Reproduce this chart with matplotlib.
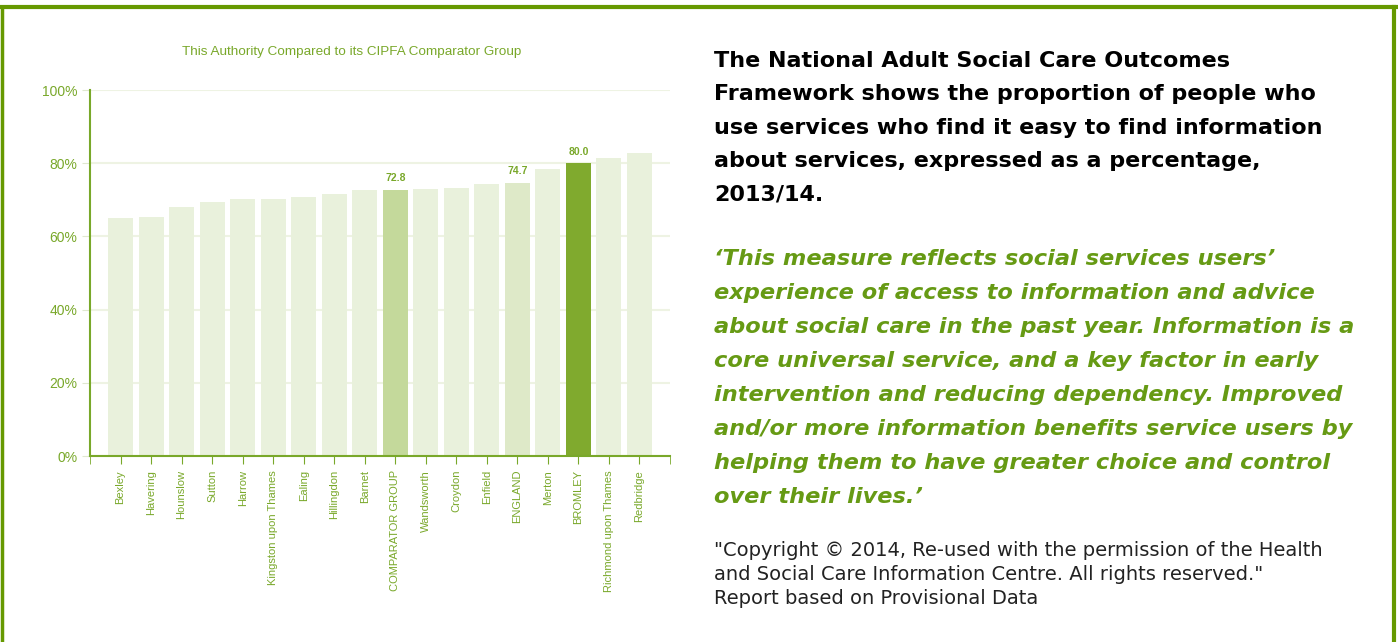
import numpy as np
import matplotlib
matplotlib.use("Agg")
import matplotlib.pyplot as plt
from matplotlib.lines import Line2D

#*************** DATA ******************#
areas = ["Bexley", "Havering", "Hounslow", "Sutton", "Harrow",
         "Kingston upon Thames", "Ealing", "Hillingdon", "Barnet",
         "COMPARATOR GROUP", "Wandsworth", "Croydon", "Enfield", "ENGLAND",
         "Merton", "BROMLEY", "Richmond upon Thames", "Redbridge"]
values = [65.0, 65.4, 67.9, 69.3, 70.1, 70.3, 70.9, 71.7, 72.7,
          72.8, 73.0, 73.1, 74.4, 74.7, 78.3, 80.0, 81.3, 82.7]
labelled = ["COMPARATOR GROUP", "ENGLAND", "BROMLEY"]
yticks = [0, 20, 40, 60, 80, 100]

title = "This Authority Compared to its CIPFA Comparator Group"
heading = ["The National Adult Social Care Outcomes",
           "Framework shows the proportion of people who",
           "use services who find it easy to find information",
           "about services, expressed as a percentage,",
           "2013/14."]
quote = ["\u2018This measure reflects social services users\u2019",
         "experience of access to information and advice",
         "about social care in the past year. Information is a",
         "core universal service, and a key factor in early",
         "intervention and reducing dependency. Improved",
         "and/or more information benefits service users by",
         "helping them to have greater choice and control",
         "over their lives.\u2019"]
copyright_lines = ["\"Copyright \u00a9 2014, Re-used with the permission of the Health",
                   "and Social Care Information Centre. All rights reserved.\"",
                   "Report based on Provisional Data"]

#*************** COLOURS ******************#
GREEN = "#79a82a"
DARK = "#669900"
bar_colors = {"COMPARATOR GROUP": "#c4d99b", "ENGLAND": "#dee9c8", "BROMLEY": "#80aa2e"}
default_bar = "#e9f1dc"

W, H = 1398, 642
fig = plt.figure(figsize=(W / 100, H / 100), dpi=100)

ax = fig.add_axes([90 / W, 1 - 456 / H, 580 / W, 366 / H])
x = np.arange(len(areas))
colors = [bar_colors.get(a, default_bar) for a in areas]
ax.bar(x, values, width=0.82, color=colors, zorder=2)

for i, (a, v) in enumerate(zip(areas, values)):
    if a in labelled:
        ax.text(i, v + 1.8, "%.1f" % v, ha="center", va="bottom",
                fontsize=7.5, fontweight="bold", color=GREEN,
                family="Liberation Sans")

ax.set_xlim(-1, 18)
ax.set_ylim(0, 100)
ax.set_yticks(yticks)
ax.set_yticklabels(["%d%%" % t for t in yticks], family="Liberation Sans",
                   fontsize=10, color=GREEN)
ax.set_xticks(np.arange(-1, 19), minor=True)
ax.set_xticks(x)
ax.set_xticklabels(areas, rotation=90, family="Liberation Sans",
                   fontsize=8, color=GREEN)
ax.tick_params(axis="x", which="major", length=6, color=GREEN, pad=4)
ax.tick_params(axis="x", which="minor", length=6, color=GREEN)
ax.tick_params(axis="y", length=6, color="#dfe8cf", pad=3)
ax.grid(axis="y", color="#eef3e3", linewidth=1.5, zorder=0)
ax.set_axisbelow(True)
for side in ["top", "right"]:
    ax.spines[side].set_visible(False)
ax.spines["left"].set_color(GREEN)
ax.spines["bottom"].set_color(GREEN)
ax.spines["left"].set_linewidth(1.5)
ax.spines["bottom"].set_linewidth(1.5)

fig.text(352 / W, 1 - 52 / H, title, ha="center", va="center",
         fontsize=9.7, color=GREEN, family="Liberation Sans")

#*************** RIGHT HAND TEXT ******************#
tx = 714 / W
for i, line in enumerate(heading):
    fig.text(tx, 1 - (61 + i * 33.5) / H, line, ha="left", va="center",
             fontsize=16, fontweight="bold", color="black", family="DejaVu Sans")
for i, line in enumerate(quote):
    fig.text(tx, 1 - (259 + i * 34) / H, line, ha="left", va="center",
             fontsize=16.2, fontweight="bold", style="italic", color="#669a14",
             family="DejaVu Sans")
for i, line in enumerate(copyright_lines):
    fig.text(tx, 1 - (550 + i * 24) / H, line, ha="left", va="center",
             fontsize=14, color="#222222", family="DejaVu Sans")

#*************** FRAME ******************#
fig.add_artist(Line2D([2 / W, 2 / W], [0, 1 - 7 / H], color=DARK, lw=2.5,
                      transform=fig.transFigure))
fig.add_artist(Line2D([1394 / W, 1394 / W], [0, 1 - 7 / H], color=DARK, lw=3,
                      transform=fig.transFigure))
fig.add_artist(Line2D([0, 1396 / W], [1 - 7 / H, 1 - 7 / H], color=DARK, lw=3,
                      transform=fig.transFigure))

fig.savefig("out.png", dpi=100, facecolor="white")
